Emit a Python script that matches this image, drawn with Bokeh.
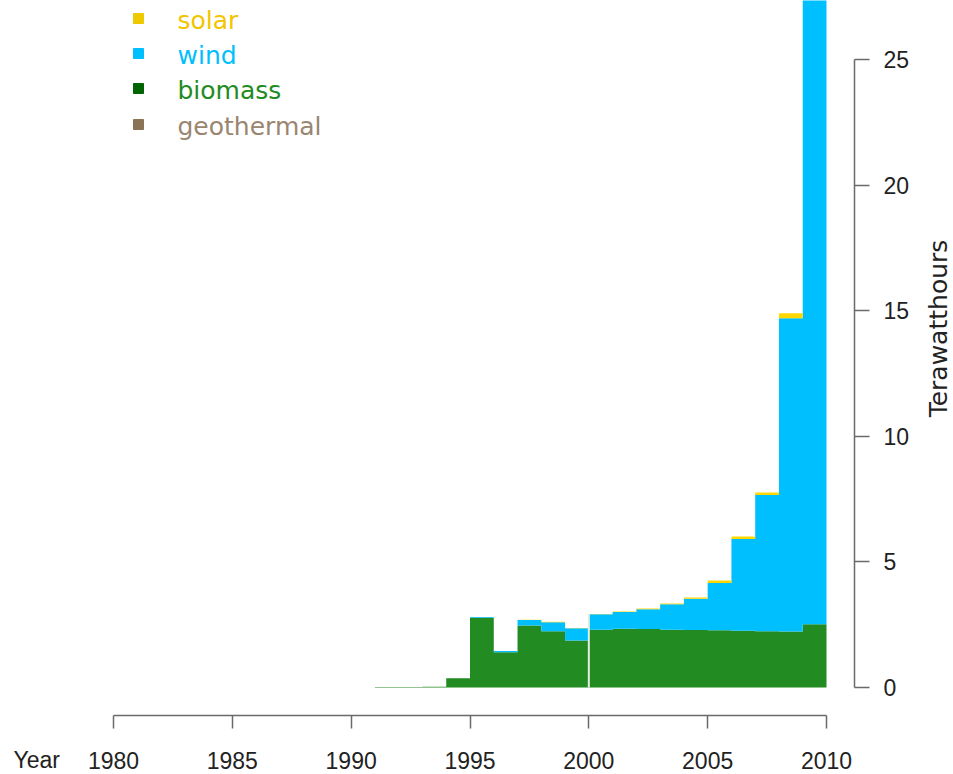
import math
from bokeh.plotting import figure
from bokeh.models import ColumnDataSource, Range1d, FixedTicker, Label
from bokeh.embed import file_html
from bokeh.resources import INLINE

# ---------------- data (TWh per year, step starts at the year) ----------------
years = [1980, 1981, 1982, 1983, 1984, 1985, 1986, 1987, 1988, 1989,
         1990, 1991, 1992, 1993, 1994, 1995, 1996, 1997, 1998, 1999,
         2000, 2001, 2002, 2003, 2004, 2005, 2006, 2007, 2008, 2009]
geothermal = [0, 0, 0, 0, 0, 0, 0, 0, 0, 0,
              0, 0, 0, 0, 0, 0, 0, 0, 0, 0,
              0, 0, 0, 0, 0, 0, 0, 0, 0, 0]
biomass = [0, 0, 0, 0, 0, 0, 0, 0, 0, 0,
           0, 0.02, 0.02, 0.03, 0.37, 2.78, 1.40, 2.47, 2.24, 1.87,
           2.30, 2.34, 2.33, 2.30, 2.29, 2.28, 2.26, 2.24, 2.23, 2.52]
wind = [0, 0, 0, 0, 0, 0, 0, 0, 0, 0,
        0, 0, 0, 0, 0, 0.03, 0.05, 0.22, 0.36, 0.49,
        0.62, 0.67, 0.79, 1.01, 1.24, 1.88, 3.65, 5.42, 12.47, 30.0]
solar = [0, 0, 0, 0, 0, 0, 0, 0, 0, 0,
         0, 0, 0, 0, 0, 0, 0, 0.01, 0.02, 0.01,
         0.01, 0.02, 0.02, 0.03, 0.05, 0.10, 0.10, 0.10, 0.20, 0.30]
series_names = ["solar", "wind", "biomass", "geothermal"]
x_ticks = [1980, 1985, 1990, 1995, 2000, 2005, 2010]
y_ticks = [0, 5, 10, 15, 20, 25]
x_title = "Year"
y_title = "Terawatthours"
marked_year = 2000

# ---------------- styles ----------------
fill_colors = {"solar": "#FFD700", "wind": "#00BFFF", "biomass": "#228B22", "geothermal": "#8B7355"}
key_colors = {"solar": "#EEC900", "wind": "#00BFFF", "biomass": "#006400", "geothermal": "#8B7355"}
text_colors = {"solar": "#F2C500", "wind": "#00BFFF", "biomass": "#228B22", "geothermal": "#9A8670"}
AXIS_COLOR = "#6a6a6a"
LABEL_COLOR = "#222222"
TICK_FONT = "Liberation Sans"
TEXT_FONT = "DejaVu Sans"

# ---------------- layout calibration (page pixels of the reference) ----------------
W, H = 953, 774
PPX = (826 - 113) / 30.0
PPY = (687 - 59) / 25.0
def xd(px):
    return 1980 + (px - 113) / PPX
def yd(py):
    return (687 - py) / PPY

X_AXIS_AT = 715   # page y of the bottom axis line
Y_AXIS_AT = 854   # page x of the right axis line

p = figure(width=W, height=H, output_backend="svg", toolbar_location=None,
           x_range=Range1d(xd(0), xd(W)),
           y_range=Range1d(yd(H), yd(0)),
           x_axis_location="below", y_axis_location="right",
           min_border=0, min_border_left=0, min_border_top=0,
           min_border_right=0, min_border_bottom=0)
p.outline_line_color = None
p.grid.visible = False
p.background_fill_color = "white"
p.border_fill_color = "white"

# ---------------- stacked step areas ----------------
xs = years + [years[-1] + 1]
def ext(a):
    return list(a) + [a[-1]]
data = {"x": xs}
stack_order = ["geothermal", "biomass", "wind", "solar"]
vals = {"geothermal": geothermal, "biomass": biomass, "wind": wind, "solar": solar}
base = [0.0] * len(years)
for name in stack_order:
    top = [b + v for b, v in zip(base, vals[name])]
    data[name + "_lo"] = ext(base)
    data[name + "_hi"] = ext(top)
    base = top
src = ColumnDataSource(data)
for name in stack_order:
    p.varea_step(x="x", y1=name + "_lo", y2=name + "_hi", step_mode="after",
                 source=src, fill_color=fill_colors[name], fill_alpha=1.0)

# light separator line at 2000
idx = years.index(marked_year)
p.segment(x0=[marked_year], y0=[0], x1=[marked_year], y1=[base[idx]],
          line_color="#e6efe2", line_width=2)

# ---------------- axes (fixed inside the canvas) ----------------
xa = p.xaxis[0]
xa.fixed_location = yd(X_AXIS_AT)
xa.bounds = (x_ticks[0], x_ticks[-1])
xa.ticker = FixedTicker(ticks=x_ticks)
xa.minor_tick_line_color = None
xa.major_tick_in = 0
xa.major_tick_out = 13
xa.axis_line_color = AXIS_COLOR
xa.axis_line_width = 1.5
xa.major_tick_line_color = AXIS_COLOR
xa.major_tick_line_width = 1.5
xa.major_label_text_font = TICK_FONT
xa.major_label_text_font_size = "23px"
xa.major_label_text_color = LABEL_COLOR
xa.major_label_standoff = 23

ya = p.yaxis[0]
ya.fixed_location = xd(Y_AXIS_AT)
ya.bounds = (y_ticks[0], y_ticks[-1])
ya.ticker = FixedTicker(ticks=y_ticks)
ya.minor_tick_line_color = None
ya.major_tick_in = 0
ya.major_tick_out = 15
ya.axis_line_color = AXIS_COLOR
ya.axis_line_width = 1.5
ya.major_tick_line_color = AXIS_COLOR
ya.major_tick_line_width = 1.5
ya.major_label_text_font = TICK_FONT
ya.major_label_text_font_size = "23px"
ya.major_label_text_color = LABEL_COLOR
ya.major_label_standoff = 14
ya.major_label_orientation = "horizontal"

p.add_layout(Label(x=xd(13), y=yd(759), text=x_title, text_font=TICK_FONT,
                   text_font_size="23px", text_color=LABEL_COLOR,
                   text_align="left", text_baseline="middle"))
p.add_layout(Label(x=xd(938), y=yd(328), text=y_title, text_font=TEXT_FONT,
                   text_font_size="25px", text_color=LABEL_COLOR, angle=math.pi / 2,
                   text_align="center", text_baseline="middle"))

# ---------------- legend ----------------
rows_px = [18, 53, 88, 124]
leg = ColumnDataSource({"x": [xd(138)] * 4, "y": [yd(r) for r in rows_px],
                        "c": [key_colors[n] for n in series_names]})
p.scatter(x="x", y="y", marker="square", size=10, fill_color="c", line_color="c", source=leg)
for name, r in zip(series_names, rows_px):
    p.add_layout(Label(x=xd(177), y=yd(r + 2), text=name, text_font=TEXT_FONT,
                       text_font_size="25px", text_color=text_colors[name],
                       text_align="left", text_baseline="middle"))

open("out.html", "w").write(file_html(p, INLINE))
